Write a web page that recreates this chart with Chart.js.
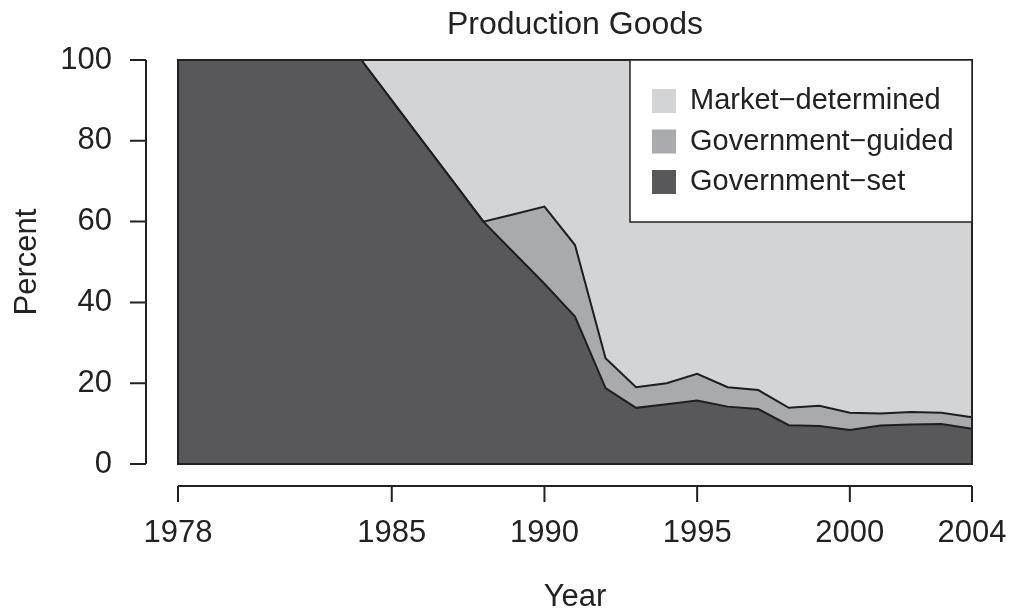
<!DOCTYPE html>
<html>
<head>
<meta charset="utf-8">
<script src="https://cdn.jsdelivr.net/npm/chart.js@4/dist/chart.umd.min.js"></script>
<style>
  html, body { margin: 0; padding: 0; background: #fff; }
  #wrap { width: 1013px; height: 613px; }
</style>
</head>
<body>
<div id="wrap"><canvas id="myChart" width="1013" height="613"></canvas></div>
<script>
const years = [1978, 1979, 1980, 1981, 1982, 1983, 1984, 1985, 1986, 1987, 1988, 1989, 1990,
               1991, 1992, 1993, 1994, 1995, 1996, 1997, 1998, 1999, 2000, 2001, 2002, 2003, 2004];
const govSet = [100, 100, 100, 100, 100, 100, 100, 90, 80, 70, 60, 52.3, 44.6,
                36.5, 18.8, 13.9, 14.8, 15.7, 14.2, 13.6, 9.6, 9.4, 8.4, 9.5, 9.8, 9.9, 8.7];
const govGuided = [0, 0, 0, 0, 0, 0, 0, 0, 0, 0, 0, 9.5, 19.1,
                   17.7, 7.4, 5.1, 5.2, 6.6, 4.8, 4.7, 4.3, 5.0, 4.3, 3.0, 3.1, 2.8, 2.9];
const market = [0, 0, 0, 0, 0, 0, 0, 10, 20, 30, 40, 38.2, 36.3,
                45.8, 73.8, 81.0, 80.0, 77.7, 81.0, 81.7, 86.1, 85.6, 87.3, 87.5, 87.1, 87.3, 88.4];
const xTicks = [1978, 1985, 1990, 1995, 2000, 2004];
const yTicks = [0, 20, 40, 60, 80, 100];
const chartTitle = 'Production Goods';

const FONT = '"Liberation Sans", Arial, Helvetica, sans-serif';
const TXT = '#222';

function pts(vals) {
    return years.map((y, i) => ({ x: y, y: vals[i] }));
}

// R-style detached axes, plot box, title and legend
const rStyle = {
    id: 'rStyle',
    afterDatasetsDraw(chart) {
        const ctx = chart.ctx;
        const a = chart.chartArea;
        const xs = chart.scales.x, ys = chart.scales.y;
        ctx.save();
        ctx.strokeStyle = '#222';
        ctx.lineWidth = 2;
        ctx.strokeRect(a.left, a.top, a.right - a.left, a.bottom - a.top);

        // x axis
        const ay = a.bottom + 22;
        ctx.beginPath();
        ctx.moveTo(xs.getPixelForValue(xTicks[0]), ay);
        ctx.lineTo(xs.getPixelForValue(xTicks[xTicks.length - 1]), ay);
        xTicks.forEach(t => {
            const px = xs.getPixelForValue(t);
            ctx.moveTo(px, ay);
            ctx.lineTo(px, ay + 16);
        });
        ctx.stroke();

        // y axis
        const ax = a.left - 32;
        ctx.beginPath();
        ctx.moveTo(ax, ys.getPixelForValue(yTicks[0]));
        ctx.lineTo(ax, ys.getPixelForValue(yTicks[yTicks.length - 1]));
        yTicks.forEach(t => {
            const py = ys.getPixelForValue(t);
            ctx.moveTo(ax, py);
            ctx.lineTo(ax - 16, py);
        });
        ctx.stroke();

        // title, centred over the plot
        ctx.fillStyle = TXT;
        ctx.font = '32px ' + FONT;
        ctx.textAlign = 'center';
        ctx.textBaseline = 'middle';
        ctx.fillText(chartTitle, (a.left + a.right) / 2, 25);

        // legend box
        const bx = a.right - 342, by = a.top, bw = 342, bh = 162;
        ctx.fillStyle = '#fff';
        ctx.fillRect(bx, by, bw, bh);
        ctx.lineWidth = 1.5;
        ctx.strokeRect(bx, by, bw, bh);
        const items = chart.data.datasets.slice().reverse();
        ctx.font = '29px ' + FONT;
        ctx.textAlign = 'left';
        items.forEach((d, i) => {
            const cy = by + 41 + i * 40.5;
            ctx.fillStyle = d.backgroundColor;
            ctx.fillRect(bx + 22, cy - 12, 24, 24);
            ctx.fillStyle = TXT;
            ctx.fillText(d.label, bx + 60, cy);
        });
        ctx.restore();
    }
};

const ctx = document.getElementById('myChart').getContext('2d');
new Chart(ctx, {
    type: 'line',
    data: {
        datasets: [
            {
                label: 'Government\u2212set',
                data: pts(govSet),
                backgroundColor: '#58585a',
                borderColor: '#1e1e1e',
                borderWidth: 2,
                fill: 'origin'
            },
            {
                label: 'Government\u2212guided',
                data: pts(govGuided),
                backgroundColor: '#a9aaad',
                borderColor: '#1e1e1e',
                borderWidth: 2,
                fill: '-1'
            },
            {
                label: 'Market\u2212determined',
                data: pts(market),
                backgroundColor: '#d3d4d6',
                borderColor: '#1e1e1e',
                borderWidth: 2,
                fill: '-1'
            }
        ]
    },
    options: {
        responsive: false,
        animation: false,
        elements: { point: { radius: 0 }, line: { tension: 0 } },
        layout: { padding: { left: 0, right: 41, top: 60, bottom: 0 } },
        plugins: {
            legend: { display: false },
            tooltip: { enabled: false },
            title: { display: false }
        },
        scales: {
            x: {
                type: 'linear',
                min: 1978,
                max: 2004,
                afterBuildTicks: s => { s.ticks = xTicks.map(v => ({ value: v })); },
                afterFit: s => { s.height = 149; s.paddingLeft = 0; s.paddingRight = 0; },
                grid: { display: false, drawTicks: false },
                border: { display: false },
                ticks: {
                    color: TXT,
                    font: { family: FONT, size: 31 },
                    padding: 51,
                    maxRotation: 0,
                    autoSkip: false,
                    callback: v => String(v)
                },
                title: {
                    display: true,
                    text: 'Year',
                    color: TXT,
                    font: { family: FONT, size: 31, lineHeight: 1 },
                    padding: { top: 0, bottom: 0 }
                }
            },
            y: {
                stacked: true,
                min: 0,
                max: 100,
                afterBuildTicks: s => { s.ticks = yTicks.map(v => ({ value: v })); },
                afterFit: s => { s.width = 178; s.paddingTop = 0; s.paddingBottom = 0; },
                grid: { display: false, drawTicks: false },
                border: { display: false },
                ticks: {
                    color: TXT,
                    font: { family: FONT, size: 31 },
                    padding: 66
                },
                title: {
                    display: true,
                    text: 'Percent',
                    color: TXT,
                    font: { family: FONT, size: 31, lineHeight: 1 },
                    padding: { top: 12, bottom: 0 }
                }
            }
        }
    },
    plugins: [rStyle]
});
</script>
</body>
</html>
